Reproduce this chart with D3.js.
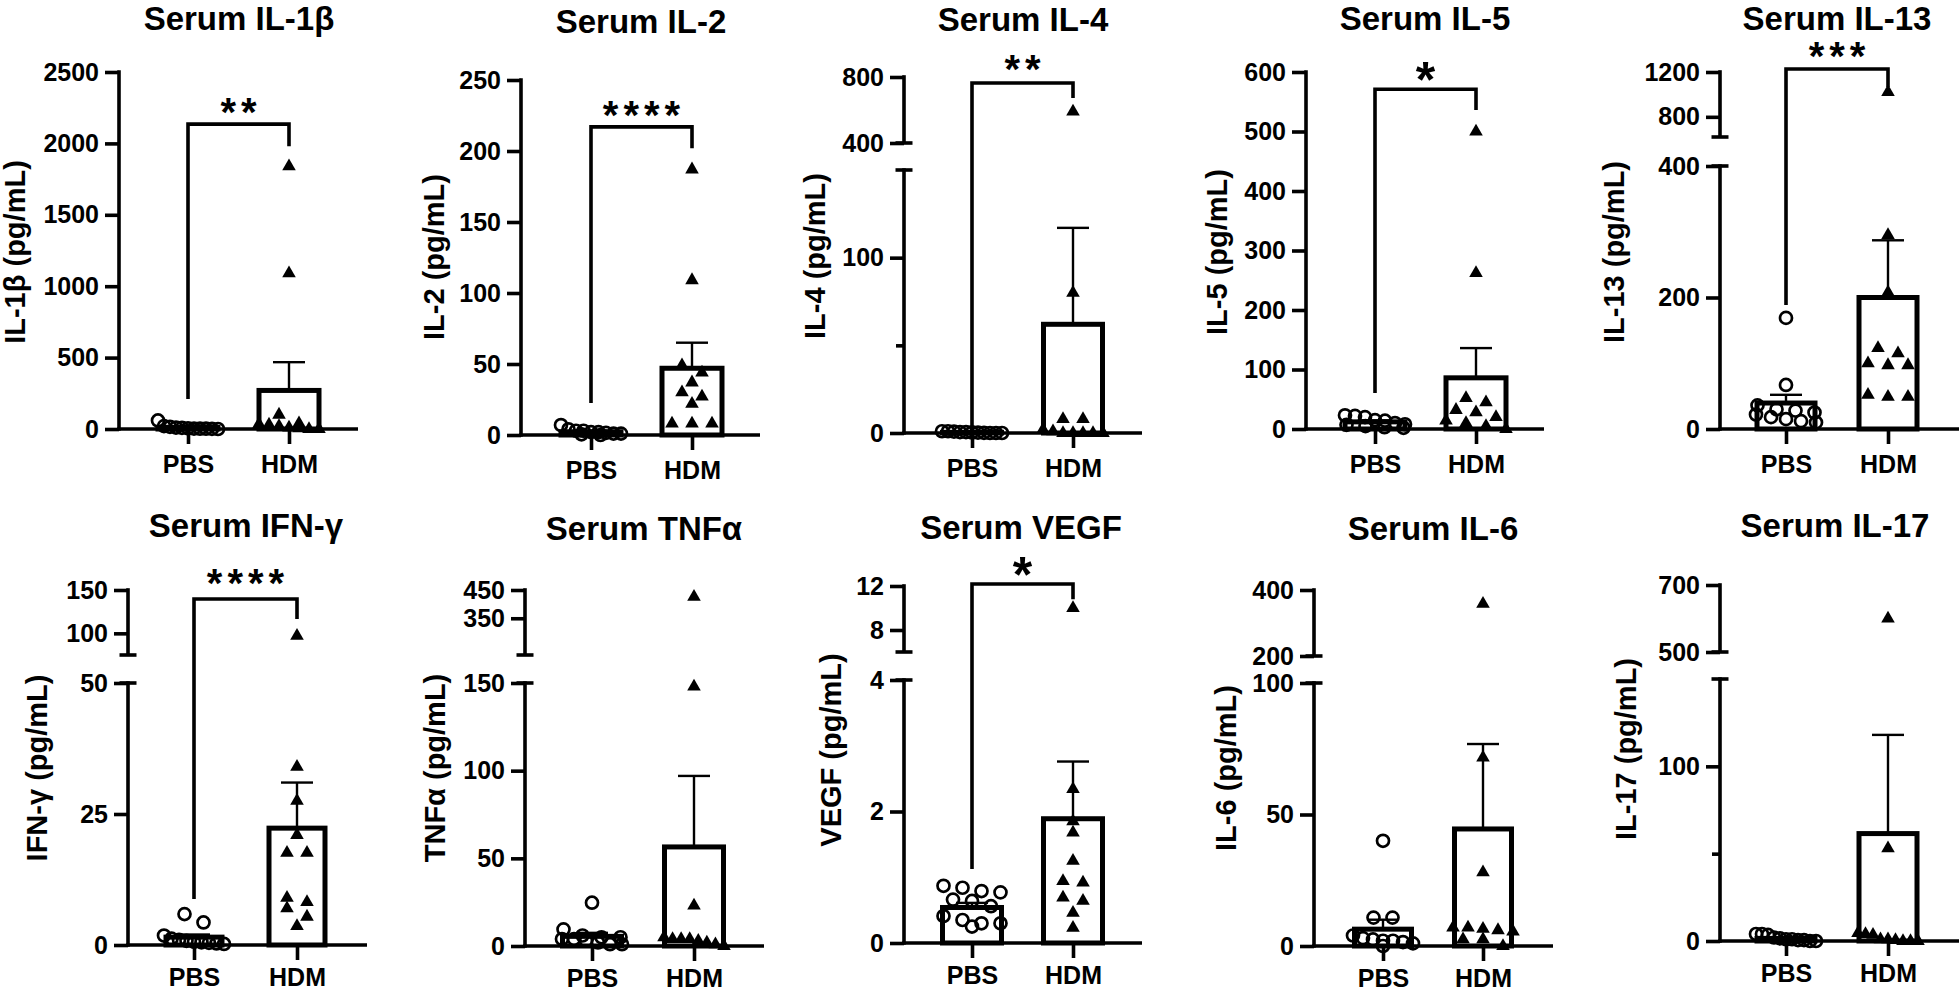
<!DOCTYPE html>
<html><head><meta charset="utf-8">
<script src="https://cdn.jsdelivr.net/npm/d3@7"></script>
<style>
body{margin:0;background:#fff}
svg{display:block}
text{font-family:"Liberation Sans",Arial,Helvetica,sans-serif;font-weight:bold;fill:#000}
</style>
</head><body>
<svg id="c" width="1959" height="992"></svg>
<script>
// ---------------- DATA ----------------
const panelTitles = ["Serum IL-1β","Serum IL-2","Serum IL-4","Serum IL-5","Serum IL-13",
                     "Serum IFN-γ","Serum TNFα","Serum VEGF","Serum IL-6","Serum IL-17"];
const yAxisLabels = ["IL-1β (pg/mL)","IL-2 (pg/mL)","IL-4 (pg/mL)","IL-5 (pg/mL)","IL-13 (pg/mL)",
                     "IFN-γ (pg/mL)","TNFα (pg/mL)","VEGF (pg/mL)","IL-6 (pg/mL)","IL-17 (pg/mL)"];
const groups = ["PBS","HDM"];

const pbsValues = [
  [60,20,15,10,8,5,3,2,2,1,0],
  [7,4,3,3,2,2,1.5,1,1,0.5,0],
  [1,1,0.8,0.5,0.5,0.3,0.2,0.1,0,0,0],
  [23,22,20,15,14,10,8,7,5,3,2],
  [169,67,36,30,28,25,22,18,15,12,10],
  [5.9,4.3,1.8,1.2,1,0.8,0.6,0.5,0.4,0.3,0.2],
  [24.7,9.5,6,5,5,4,4,3,2,1,1],
  [0.87,0.84,0.79,0.77,0.66,0.64,0.56,0.41,0.35,0.30,0.30,0.25],
  [40,10.8,10.8,4,3,2.5,2,2,1.5,1,0],
  [4,4,3.5,2,1.5,1,1,0.5,0.5,0,0]
];
const hdmValues = [
  [1840,1090,100,40,35,30,20,10,5,0,0],
  [187,109,49,44,37,30,27,22,8,8,8],
  [590,80,8,8,2,1,0,0,0,0,0],
  [500,262,52,45,32,28,20,14,10,5,0],
  [1020,295,208,123,115,100,97,97,52,49,49],
  [97,34,27.5,21,17.6,17.6,9,8.2,7,5.4,3.6],
  [426,148,23,5,4,4,4,3,2,1,0],
  [10,2.34,1.85,1.68,1.25,0.94,0.92,0.69,0.64,0.46,0.23],
  [358,71.6,28,7,7,6.5,6,5.5,2.5,2.5,0],
  [600,53,4.5,4,3.5,1,1,0.5,0,0,0]
];
const pbsMean = [12,2.3,0.4,12,39.5,1.5,5.5,0.54,6.4,1.5];
const pbsSem  = [5,0.7,0.1,2.5,12.5,0.5,2,0.07,3.6,0.5];
const hdmMean = [270,47,62,86,200,22.3,56.5,1.89,44.5,61.5];
const hdmSem  = [198,18,55,50,87,8.7,40.5,0.87,32.3,56.5];

// axis segments (broken axes): lower segment first
const axisDomains = [
  [[0,2500]], [[0,250]], [[0,150],[400,800]], [[0,600]], [[0,400],[620,1200]],
  [[0,50],[75,150]], [[0,150],[220,450]], [[0,4],[6,12]], [[0,100],[200,400]], [[0,150],[500,700]]
];
const axisTicks = [
  [[0,500,1000,1500,2000,2500]],
  [[0,50,100,150,200,250]],
  [[0,100],[400,800]],
  [[0,100,200,300,400,500,600]],
  [[0,200,400],[800,1200]],
  [[0,25,50],[100,150]],
  [[0,50,100,150],[350,450]],
  [[0,2,4],[8,12]],
  [[0,50,100],[200,400]],
  [[0,100],[500,700]]
];
const minorTicks = [[],[],[50],[],[],[],[],[],[],[50]];
const sigLabels = ["**","****","**","*","***","****","","*","",""];
// significance bracket: [bar level, PBS leg end, HDM leg end] in data units
const bracketLevels = [
  [2135,210,1980],[217,22.5,202],[764,1.5,673],[571,60.5,536],[1227,188.6,1066],
  [139.6,8.8,116.5],null,[12.18,1.125,10.8],null,null
];

// ---------------- LAYOUT ----------------
const layout = [
  {ax:119,  xs:[188,289],  xEnd:358,  ranges:[[429,72]],           barW:60, title:[239,30],  ylab:[15,252],   starDy:21},
  {ax:521,  xs:[591,692],  xEnd:760,  ranges:[[435,80]],           barW:60, title:[641,33],  ylab:[434,257],  starDy:21},
  {ax:904,  xs:[972,1073], xEnd:1142, ranges:[[433,170],[143,77]], barW:59, title:[1023,31], ylab:[815,256],  starDy:23},
  {ax:1306, xs:[1375,1476],xEnd:1544, ranges:[[429,72]],           barW:60, title:[1425,30], ylab:[1217,252], starDy:21},
  {ax:1720, xs:[1786,1888],xEnd:1959, ranges:[[429,166],[137,72]], barW:58, title:[1837,30], ylab:[1614,252], starDy:22},
  {ax:128,  xs:[194,297],  xEnd:367,  ranges:[[945,683],[655,590]],barW:56, title:[246,537], ylab:[37,768],   starDy:25},
  {ax:525,  xs:[592,694],  xEnd:764,  ranges:[[946,683],[655,590]],barW:59, title:[644,540], ylab:[435,768],  starDy:21},
  {ax:904,  xs:[972,1073], xEnd:1142, ranges:[[943,680],[652,586]],barW:59, title:[1021,539],ylab:[831,750],  starDy:21},
  {ax:1314, xs:[1383,1483],xEnd:1553, ranges:[[946,683],[656,590]],barW:57, title:[1433,540],ylab:[1226,768], starDy:21},
  {ax:1720, xs:[1786,1888],xEnd:1959, ranges:[[941,679],[652,585]],barW:58, title:[1835,537],ylab:[1626,749], starDy:21}
];

const AXW = 3.6, BARW = 5, ERRW = 2.4, TICK = 14, MINOR = 8, CAP = 8.5;

const svg = d3.select("#c");
svg.append("rect").attr("width",1959).attr("height",992).attr("fill","#fff");

function makeY(domains, ranges){
  const scales = domains.map((d,i)=>d3.scaleLinear().domain(d).range(ranges[i]));
  const f = v => {
    for (let i=scales.length-1;i>=0;i--) if (v >= domains[i][0]) return scales[i](v);
    return scales[0](v);
  };
  f.scales = scales;
  return f;
}

function spread(vals, y, sMax, W){
  const pts = vals.map(v=>({v, py:y(v)})).sort((a,b)=>a.py-b.py);
  const rows=[]; let cur=null;
  pts.forEach(p=>{
    if(!cur || p.py-cur[0].py > 9){cur=[p]; rows.push(cur);} else cur.push(p);
  });
  rows.forEach(r=>{
    const n=r.length, s = n>1 ? Math.min(sMax, W/(n-1)) : 0;
    r.forEach((p,k)=>p.dx=(k-(n-1)/2)*s);
  });
  return pts;
}

panelTitles.forEach((title, i)=>{
  const L = layout[i];
  const g = svg.append("g");
  const y = makeY(axisDomains[i], L.ranges);
  const x = d3.scalePoint().domain(groups).range(L.xs);
  const y0 = y(0);

  // title
  g.append("text").attr("x",L.title[0]).attr("y",L.title[1]).attr("text-anchor","middle")
    .attr("font-size",33).text(title);
  // y label
  g.append("text").attr("transform",`translate(${L.ylab[0]},${L.ylab[1]}) rotate(-90)`)
    .attr("text-anchor","middle").attr("dominant-baseline","central")
    .attr("font-size",29).text(yAxisLabels[i]);

  // y axis segments
  y.scales.forEach((sc, si)=>{
    const labeled = axisTicks[i][si];
    const minors = minorTicks[i].filter(v=>v>=sc.domain()[0] && v<=sc.domain()[1]);
    const all = labeled.concat(minors);
    const ag = g.append("g").attr("transform",`translate(${L.ax},0)`)
      .call(d3.axisLeft(sc).tickValues(all).tickSize(TICK).tickSizeOuter(0).tickPadding(6)
        .tickFormat(v => labeled.includes(v) ? String(v) : ""));
    ag.select(".domain").remove();
    ag.attr("font-size",null).attr("font-family",null);
    ag.selectAll(".tick line").attr("stroke","#000").attr("stroke-width",AXW)
      .attr("x2", d => labeled.includes(d) ? -TICK : -MINOR);
    ag.selectAll(".tick text").attr("font-size",25).attr("fill","#000");
    const r = sc.range();
    ag.append("line").attr("x1",0).attr("x2",0)
      .attr("y1", si===0 ? r[0]+AXW/2 : r[0]).attr("y2", r[1]-AXW/2)
      .attr("stroke","#000").attr("stroke-width",AXW);
    // break caps
    if (y.scales.length>1){
      const capY = si===0 ? r[1] : r[0];
      ag.append("line").attr("x1",-CAP).attr("x2",CAP).attr("y1",capY).attr("y2",capY)
        .attr("stroke","#000").attr("stroke-width",AXW);
    }
  });

  // x axis
  const xg = g.append("g").attr("transform",`translate(0,${y0})`)
    .call(d3.axisBottom(x).tickSize(15).tickSizeOuter(0).tickPadding(i < 5 ? 11 : 8));
  xg.select(".domain").remove();
  xg.attr("font-size",null).attr("font-family",null);
  xg.selectAll(".tick line").attr("stroke","#000").attr("stroke-width",AXW);
  xg.selectAll(".tick text").attr("font-size",25).attr("fill","#000");
  g.append("line").attr("x1",L.ax-AXW/2).attr("x2",L.xEnd).attr("y1",y0).attr("y2",y0)
    .attr("stroke","#000").attr("stroke-width",AXW);

  const means = [pbsMean[i], hdmMean[i]], sems = [pbsSem[i], hdmSem[i]];
  // bars
  g.selectAll("rect.bar").data(groups).join("rect").attr("class","bar")
    .attr("x", d=>x(d)-L.barW/2).attr("width",L.barW)
    .attr("y", (d,k)=>y(means[k])).attr("height",(d,k)=>Math.max(0,y0-y(means[k])))
    .attr("fill","#fff").attr("stroke","#000").attr("stroke-width",BARW)
    .attr("stroke-linejoin","miter");
  // error bars (upper)
  groups.forEach((gname,k)=>{
    const cx = x(gname), yt = y(means[k]+sems[k]), yb = y(means[k]);
    g.append("line").attr("x1",cx).attr("x2",cx).attr("y1",yb).attr("y2",yt)
      .attr("stroke","#000").attr("stroke-width",ERRW);
    g.append("line").attr("x1",cx-16).attr("x2",cx+16).attr("y1",yt).attr("y2",yt)
      .attr("stroke","#000").attr("stroke-width",ERRW);
  });
  // points
  const pbsPts = spread(pbsValues[i], y, 19, 60);
  g.selectAll("circle.pt").data(pbsPts).join("circle").attr("class","pt")
    .attr("cx", d=>x("PBS")+d.dx).attr("cy", d=>d.py).attr("r",6)
    .attr("fill","none").attr("stroke","#000").attr("stroke-width",2.7);
  const hdmPts = spread(hdmValues[i], y, 20, 60);
  const tri = d3.symbol().type(d3.symbolTriangle).size(80);
  g.selectAll("path.pt").data(hdmPts).join("path").attr("class","pt")
    .attr("transform", d=>`translate(${x("HDM")+d.dx},${d.py})`).attr("d",tri).attr("fill","#000");

  // significance bracket
  const b = bracketLevels[i];
  if (b){
    const yb = y(b[0]);
    g.append("path")
      .attr("d",`M${x("PBS")},${y(b[1])}V${yb}H${x("HDM")}V${y(b[2])}`)
      .attr("fill","none").attr("stroke","#000").attr("stroke-width",AXW).attr("stroke-linejoin","miter");
    const s = sigLabels[i];
    const fs = s.length===1 ? 50 : 40;
    const ls = s.length===1 ? 0 : 5;
    g.append("text").attr("x",(x("PBS")+x("HDM"))/2 + ls/2)
      .attr("y", yb - L.starDy + 0.575*fs).attr("text-anchor","middle")
      .attr("font-size",fs).attr("letter-spacing",ls).text(s);
  }
});
</script>
</body></html>
